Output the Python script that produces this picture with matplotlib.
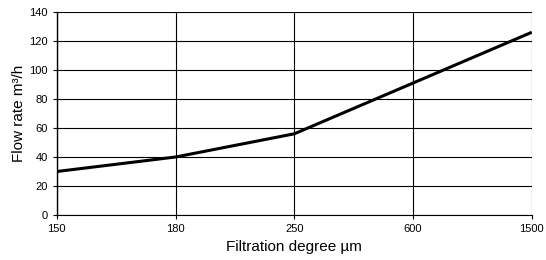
import matplotlib.pyplot as plt

plt.rcParams["font.family"] = ["Liberation Sans", "DejaVu Sans"]

degrees = ["150", "180", "250", "600", "1500"]
flow = [30, 40, 56, 91, 126]
y_ticks = [0, 20, 40, 60, 80, 100, 120, 140]

fig = plt.figure(figsize=(5.46, 2.6), dpi=100)
ax = fig.add_axes([0.104, 0.173, 0.870, 0.781])

xs = list(range(len(degrees)))
ax.plot(xs, flow, color="black", linewidth=2.2, solid_capstyle="butt")

ax.set_xlim(0, len(degrees) - 1)
ax.set_ylim(0, 140)
ax.set_xticks(xs)
ax.set_xticklabels(degrees)
ax.set_yticks(y_ticks)
ax.grid(True, color="black", linewidth=0.8)
ax.set_axisbelow(True)
for side in ["top", "right"]:
    ax.spines[side].set_visible(False)
ax.spines["left"].set_linewidth(1.0)
ax.spines["bottom"].set_linewidth(0.8)
ax.tick_params(axis="both", labelsize=8, length=3, width=0.8, colors="black")

ax.set_xlabel("Filtration degree µm", fontsize=11, labelpad=4)
ax.set_ylabel("Flow rate m³/h", fontsize=11, labelpad=2)

fig.savefig("out.png", dpi=100)
plt.close(fig)
